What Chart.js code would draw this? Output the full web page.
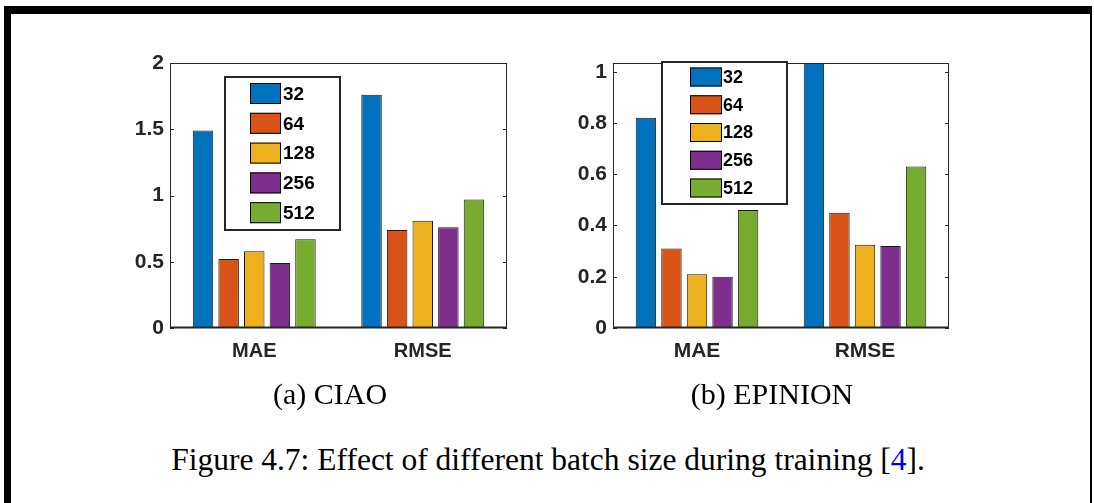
<!DOCTYPE html>
<html>
<head>
<meta charset="utf-8">
<script src="https://cdn.jsdelivr.net/npm/chart.js@4.4.1/dist/chart.umd.min.js"></script>
<style>
  body { margin: 0; width: 1094px; height: 503px; background: #fff; position: relative; overflow: hidden; }
  .frame { position: absolute; background: #000; }
  canvas { position: absolute; }
  .sub {
    position: absolute; font-family: "Liberation Serif", "Times New Roman", serif;
    font-size: 30px; line-height: 1; color: #000; white-space: nowrap; transform: translateX(-50%);
  }
  .caption { font-size: 31.5px; }
  .ref { color: #0000ee; }
</style>
</head>
<body>
<div class="frame" style="left:4px; top:6px; width:1088px; height:8px;"></div>
<div class="frame" style="left:4px; top:6px; width:7px; height:497px;"></div>
<div class="frame" style="left:1090px; top:6px; width:2px; height:497px;"></div>

<canvas id="ciaoChart" width="420" height="330" style="left:100px; top:50px;"></canvas>
<canvas id="epinionChart" width="420" height="330" style="left:543px; top:50px;"></canvas>

<div class="sub" style="left:330px; top:379px;">(a) CIAO</div>
<div class="sub" style="left:772px; top:379px;">(b) EPINION</div>
<div class="sub caption" style="left:548px; top:444px;">Figure 4.7: Effect of different batch size during training [<span class="ref">4</span>].</div>

<script>
// categories and series
const categories = ["MAE", "RMSE"];
const batchSizes = ["32", "64", "128", "256", "512"];
const batchColors = ["#0072BD", "#D95319", "#EDB120", "#7E2F8E", "#77AC30"];

// (a) CIAO
const ciao32 = [1.49, 1.76];
const ciao64 = [0.52, 0.74];
const ciao128 = [0.58, 0.81];
const ciao256 = [0.49, 0.76];
const ciao512 = [0.67, 0.97];
const ciaoTicks = [0, 0.5, 1, 1.5, 2];

// (b) EPINION - the 32 bar on RMSE runs past the top of the axis
const epinion32 = [0.82, 1.2];
const epinion64 = [0.31, 0.45];
const epinion128 = [0.21, 0.325];
const epinion256 = [0.20, 0.32];
const epinion512 = [0.46, 0.63];
const epinionTicks = [0, 0.2, 0.4, 0.6, 0.8, 1];

const textColor = "#262626";
const fontFamily = "'Liberation Sans', Arial, Helvetica, sans-serif";

// box round the axes, inward ticks, and the legend inside the plot (MATLAB look)
const matlabBox = {
    id: "matlabBox",
    afterDatasetsDraw(chart, args, opts) {
        const ctx = chart.ctx;
        const a = chart.chartArea;
        const y = chart.scales.y;
        ctx.save();
        ctx.strokeStyle = textColor;
        ctx.lineWidth = 1;
        ctx.strokeRect(a.left + 0.5, a.top + 0.5, a.right - a.left - 1, a.bottom - a.top - 1);
        ctx.lineWidth = 2;
        ctx.beginPath();
        ctx.moveTo(a.left, a.bottom - 0.5);
        ctx.lineTo(a.right, a.bottom - 0.5);
        ctx.stroke();
        ctx.lineWidth = 1;
        y.ticks.forEach(t => {
            const py = Math.round(y.getPixelForValue(t.value)) + 0.5;
            ctx.beginPath();
            ctx.moveTo(a.left, py);
            ctx.lineTo(a.left + 4, py);
            ctx.moveTo(a.right, py);
            ctx.lineTo(a.right - 4, py);
            ctx.stroke();
        });

        // legend
        const L = opts;
        ctx.fillStyle = "#fff";
        ctx.fillRect(L.x, L.y, L.w, L.h);
        ctx.lineWidth = 2;
        ctx.strokeStyle = textColor;
        ctx.strokeRect(L.x, L.y, L.w, L.h);
        ctx.font = "bold " + L.font + "px " + fontFamily;
        ctx.textBaseline = "middle";
        ctx.textAlign = "left";
        chart.data.datasets.forEach((ds, i) => {
            const cy = L.first + i * L.step;
            ctx.fillStyle = ds.backgroundColor;
            ctx.fillRect(L.sx, cy - L.sh / 2, L.sw, L.sh);
            ctx.lineWidth = 1;
            ctx.strokeStyle = "#000";
            ctx.strokeRect(L.sx + 0.5, cy - L.sh / 2 + 0.5, L.sw - 1, L.sh - 1);
            ctx.fillStyle = "#000";
            ctx.fillText(ds.label, L.tx, cy + 1);
        });
        ctx.restore();
    }
};

// drop the extra room Chart.js keeps for half tick labels, so the plot box sits where the padding says
function noLabelPadding(scale) {
    scale.paddingTop = 0;
    scale.paddingBottom = 0;
    scale.paddingLeft = 0;
    scale.paddingRight = 0;
}

function makeChart(id, series, ticks, yMax, pad, legend, tickFont, catFont) {
    const ctx = document.getElementById(id).getContext("2d");
    return new Chart(ctx, {
        type: "bar",
        data: {
            labels: categories,
            datasets: series.map((values, i) => ({
                label: batchSizes[i],
                data: values,
                backgroundColor: batchColors[i],
                borderColor: "#1a1a1a",
                borderWidth: 1,
                borderSkipped: false,
                categoryPercentage: 0.76,
                barPercentage: 0.8
            }))
        },
        options: {
            responsive: false,
            animation: false,
            devicePixelRatio: 1,
            layout: { padding: pad },
            plugins: {
                legend: { display: false },
                tooltip: { enabled: false },
                matlabBox: legend
            },
            scales: {
                x: {
                    grid: { display: false, drawTicks: false },
                    border: { display: false },
                    ticks: { color: textColor, padding: 11, font: { family: fontFamily, size: catFont, weight: "bold" } },
                    afterFit(scale) { scale.height = 52; noLabelPadding(scale); }
                },
                y: {
                    min: 0,
                    max: yMax,
                    grid: { display: false, drawTicks: false },
                    border: { display: false },
                    afterBuildTicks(scale) { scale.ticks = ticks.map(v => ({ value: v })); },
                    ticks: {
                        color: textColor, padding: 6,
                        font: { family: fontFamily, size: tickFont, weight: "bold" },
                        callback: v => String(v)
                    },
                    afterFit(scale) { scale.width = 70; noLabelPadding(scale); }
                }
            }
        },
        plugins: [matlabBox]
    });
}

makeChart("ciaoChart",
    [ciao32, ciao64, ciao128, ciao256, ciao512],
    ciaoTicks, 2,
    { top: 13, right: 13, left: 0, bottom: 0 },
    { x: 125, y: 27, w: 115, h: 153, sx: 150, sw: 31, sh: 21, first: 43.5, step: 29.8, tx: 183, font: 19 },
    21, 20);

makeChart("epinionChart",
    [epinion32, epinion64, epinion128, epinion256, epinion512],
    epinionTicks, 1.034,
    { top: 13, right: 14, left: 0, bottom: 0 },
    { x: 119, y: 12, w: 125, h: 142, sx: 147, sw: 32, sh: 19, first: 27, step: 27.75, tx: 180, font: 18 },
    21, 21);
</script>
</body>
</html>
